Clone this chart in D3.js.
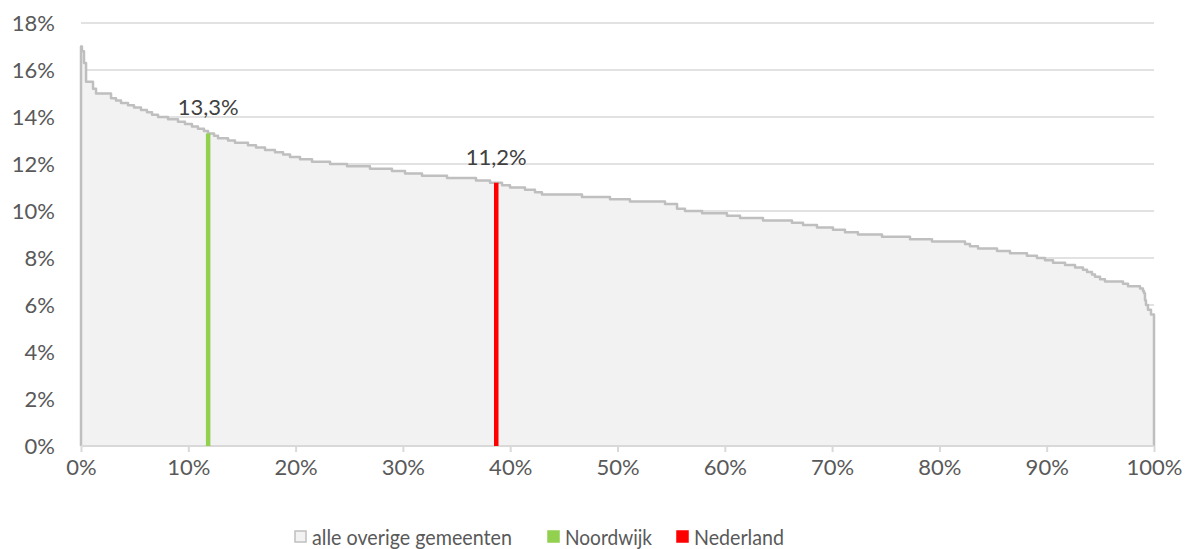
<!DOCTYPE html>
<html>
<head>
<meta charset="utf-8">
<script src="https://cdn.jsdelivr.net/npm/d3@7"></script>
<style>
  html, body { margin: 0; padding: 0; background: #fff; }
  svg { display: block; }
  text { font-family: Lato, sans-serif; fill: #595959; }
</style>
</head>
<body>
<svg id="chart" width="1193" height="549"></svg>
<script>
// Distribution of all municipalities: percentile (x, %) where each level starts, and the level (y, %)
const stepPct = [0.0, 0.09, 0.28, 0.47, 1.12, 1.40, 2.80, 3.26, 3.73, 4.38, 4.94, 5.59, 6.15, 6.62, 7.18, 8.11,
  9.04, 9.69, 10.34, 10.90, 11.46, 11.84, 12.40, 12.77, 13.70, 14.35, 15.56, 16.31, 17.15, 18.08, 18.83, 19.48,
  20.41, 21.53, 23.21, 24.79, 26.93, 28.98, 30.20, 31.78, 34.11, 36.81, 38.12, 39.24, 39.98, 41.38, 42.31, 42.96,
  46.69, 49.30, 51.16, 54.43, 55.55, 56.29, 57.88, 60.20, 61.42, 63.56, 66.26, 67.29, 68.59, 70.08, 71.20, 72.41,
  74.65, 77.26, 79.31, 82.39, 82.85, 83.60, 85.37, 86.58, 88.16, 89.09, 89.84, 90.59, 91.71, 92.64, 93.38, 93.76,
  94.22, 94.50, 94.97, 95.43, 97.11, 97.58, 98.70, 98.97, 99.07, 99.16, 99.25, 99.44, 99.72, 100];
const stepVal = [17.0, 16.8, 16.3, 15.5, 15.2, 15.0, 14.8, 14.7, 14.6, 14.5, 14.4, 14.3, 14.2, 14.1, 14.0, 13.9,
  13.8, 13.7, 13.6, 13.5, 13.4, 13.3, 13.2, 13.1, 13.0, 12.9, 12.8, 12.7, 12.6, 12.5, 12.4, 12.3,
  12.2, 12.1, 12.0, 11.9, 11.8, 11.7, 11.6, 11.5, 11.4, 11.3, 11.2, 11.1, 11.0, 10.9, 10.8, 10.7,
  10.6, 10.5, 10.4, 10.3, 10.1, 10.0, 9.9, 9.8, 9.7, 9.6, 9.5, 9.4, 9.3, 9.2, 9.1, 9.0,
  8.9, 8.8, 8.7, 8.6, 8.5, 8.4, 8.3, 8.2, 8.1, 8.0, 7.9, 7.8, 7.7, 7.6, 7.5, 7.4,
  7.3, 7.2, 7.1, 7.0, 6.9, 6.8, 6.7, 6.6, 6.5, 6.2, 6.0, 5.8, 5.6, 5.4];

// Highlighted entries
const highlightNames = ["Noordwijk", "Nederland"];
const highlightPct = [11.85, 38.7];
const highlightVal = [13.3, 11.2];
const highlightLabels = ["13,3%", "11,2%"];
const highlightColors = ["#92d050", "#ff0000"];

const legendNames = ["alle overige gemeenten", "Noordwijk", "Nederland"];
const yTicks = [0, 2, 4, 6, 8, 10, 12, 14, 16, 18];
const xTicks = [0, 10, 20, 30, 40, 50, 60, 70, 80, 90, 100];

const FS = 22;
const svg = d3.select("#chart");
const x = d3.scaleLinear().domain([0, 100]).range([81, 1154]);
const y = d3.scaleLinear().domain([0, 18]).range([446, 23]);

// gridlines
svg.append("g").selectAll("line").data(yTicks.filter(d => d > 0)).join("line")
  .attr("x1", x(0)).attr("x2", x(100))
  .attr("y1", d => y(d)).attr("y2", d => y(d))
  .attr("stroke", "#d9d9d9").attr("stroke-width", 1.5);

// y labels
svg.append("g").selectAll("text").data(yTicks).join("text")
  .attr("x", 55).attr("y", d => y(d)).attr("dy", "0.36em")
  .attr("text-anchor", "end").attr("font-size", FS)
  .text(d => d + "%");

const pts = stepPct.map((p, i) => ({ p, v: stepVal[i] }));

// area
const area = d3.area().x(d => x(d.p)).y0(y(0)).y1(d => y(d.v)).curve(d3.curveStepAfter);
svg.append("path").datum(pts).attr("d", area).attr("fill", "#f2f2f2");

// outline incl. vertical sides
const stepLine = d3.line().x(d => x(d.p)).y(d => y(d.v)).curve(d3.curveStepAfter);
svg.append("path")
  .attr("d", "M" + x(0) + "," + y(0) + "L" + stepLine(pts).slice(1) + "L" + x(100) + "," + y(0))
  .attr("fill", "none").attr("stroke", "#bfbfbf").attr("stroke-width", 2.5).attr("stroke-linejoin", "round");

// x axis
const xAxis = d3.axisBottom(x).tickValues(xTicks).tickSize(6).tickFormat(d => d + "%");
const gx = svg.append("g").attr("transform", `translate(0,${y(0)})`).call(xAxis);
gx.select(".domain").attr("stroke", "#d9d9d9").attr("stroke-width", 2).attr("d", `M${x(0)},0H${x(100)}`);
gx.selectAll(".tick line").attr("stroke", "#d9d9d9").attr("stroke-width", 2);
gx.selectAll(".tick text").attr("font-size", FS).attr("font-family", "Lato, sans-serif")
  .attr("fill", "#595959").attr("y", 13).attr("dy", "0.71em");

// highlight bars
highlightPct.forEach((p, i) => {
  svg.append("line")
    .attr("x1", x(p)).attr("x2", x(p))
    .attr("y1", y(0)).attr("y2", y(highlightVal[i]))
    .attr("stroke", highlightColors[i]).attr("stroke-width", 4.5);
  svg.append("text")
    .attr("x", x(p)).attr("y", y(highlightVal[i]) - 18)
    .attr("text-anchor", "middle").attr("font-size", FS)
    .style("fill", "#404040")
    .text(highlightLabels[i]);
});

// legend
const legendX = [294, 547, 676];
const legendTextW = [200, 87, 90];
const legendFill = ["#f2f2f2", "#92d050", "#ff0000"];
const legendStroke = ["#bfbfbf", "#92d050", "#ff0000"];
legendNames.forEach((n, i) => {
  svg.append("rect").attr("x", legendX[i] + 1).attr("y", 531).attr("width", 11).attr("height", 11)
    .attr("fill", legendFill[i]).attr("stroke", legendStroke[i]).attr("stroke-width", 1.5);
  svg.append("text").attr("x", legendX[i] + 18).attr("y", 545).attr("font-size", FS)
    .attr("textLength", legendTextW[i]).attr("lengthAdjust", "spacingAndGlyphs").text(n);
});
</script>
</body>
</html>
